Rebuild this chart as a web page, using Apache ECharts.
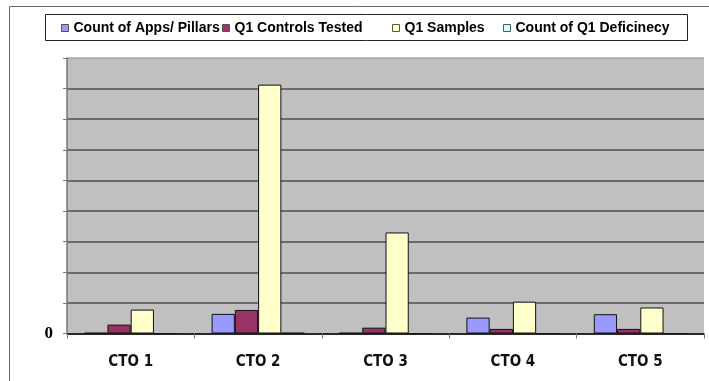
<!DOCTYPE html>
<html>
<head>
<meta charset="utf-8">
<script src="https://cdn.jsdelivr.net/npm/echarts@6/dist/echarts.min.js"></script>
<style>
  html, body { margin: 0; padding: 0; background: #fff; }
  #chart { width: 709px; height: 381px; }
</style>
</head>
<body>
<div id="chart"></div>
<script>
// Categories and series values
const categories = ['CTO 1', 'CTO 2', 'CTO 3', 'CTO 4', 'CTO 5'];
const seriesNames = ['Count of Apps/ Pillars', 'Q1 Controls Tested', 'Q1 Samples', 'Count of Q1 Deficinecy'];
const appsPillars = [0.2, 6.4, 0.2, 5.2, 6.3];
const controlsTested = [2.9, 7.7, 1.9, 1.5, 1.5];
const samples = [7.8, 81.3, 33.0, 10.4, 8.5];
const deficiency = [0, 0.2, 0, 0, 0];
const yTicks = { min: 0, max: 90, interval: 10 };

const colors = ['#9999ff', '#993366', '#ffffcc', '#ccffff'];
const values = [appsPillars, controlsTested, samples, deficiency];
const legendLeft = [61, 222, 392, 503];

const chart = echarts.init(document.getElementById('chart'), null, { renderer: 'canvas' });

const gridColors = [];
for (let v = yTicks.min; v <= yTicks.max; v += yTicks.interval) {
  gridColors.push(v === yTicks.max ? '#a4a4a4' : '#4e4e4e');
}

chart.setOption({
  animation: false,
  color: colors,
  graphic: [
    { type: 'rect', shape: { x: 9.5, y: 6.5, width: 760, height: 420 },
      style: { fill: 'none', stroke: '#6a6a6a', lineWidth: 1 }, z: 0 },
    { type: 'rect', shape: { x: 45.5, y: 14.5, width: 642, height: 26 },
      style: { fill: '#fff', stroke: '#222', lineWidth: 1 }, z: 1 }
  ],
  legend: seriesNames.map((n, i) => ({
    data: [n],
    left: legendLeft[i],
    top: 21,
    padding: 0,
    itemWidth: 7,
    itemHeight: 7,
    icon: 'rect',
    z: 5,
    itemStyle: { borderColor: '#555', borderWidth: 1 },
    textStyle: { fontFamily: 'Liberation Sans, Arial, sans-serif', fontWeight: 'bold', fontSize: 14, color: '#000' }
  })),
  grid: {
    left: 67, right: 5, top: 58, bottom: 47.5,
    show: true, backgroundColor: '#c0c0c0', borderWidth: 0
  },
  xAxis: {
    type: 'category',
    data: categories,
    axisLine: { lineStyle: { color: '#111', width: 1.5 } },
    axisTick: { show: true, length: 5, lineStyle: { color: '#777' } },
    axisLabel: {
      margin: 21,
      fontFamily: 'DejaVu Sans Condensed, sans-serif',
      fontWeight: 'bold',
      fontSize: 15,
      color: '#111'
    }
  },
  yAxis: {
    type: 'value',
    min: yTicks.min, max: yTicks.max, interval: yTicks.interval,
    axisLine: { show: true, lineStyle: { color: '#777', width: 1.5 } },
    axisTick: { show: true, length: 4, lineStyle: { color: '#777' } },
    axisLabel: {
      margin: 14,
      fontFamily: 'Liberation Serif, Times New Roman, serif',
      fontWeight: 'bold',
      fontSize: 17,
      color: '#000',
      formatter: v => (v === 0 ? '0' : '')
    },
    splitLine: { show: true, lineStyle: { color: gridColors, width: 1.5 } }
  },
  series: seriesNames.map((n, i) => ({
    name: n,
    type: 'bar',
    data: values[i],
    barGap: '0%',
    barCategoryGap: '27%',
    itemStyle: { color: colors[i], borderColor: '#111', borderWidth: 1 }
  }))
});
</script>
</body>
</html>
